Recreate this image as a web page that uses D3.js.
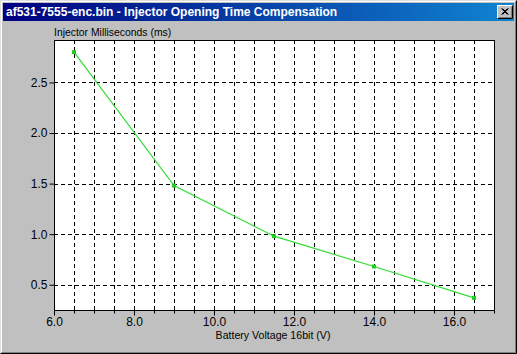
<!DOCTYPE html>
<html>
<head>
<meta charset="utf-8">
<script src="https://cdn.jsdelivr.net/npm/d3@7"></script>
<style>
  body { margin: 0; background: #c0c0c0; }
  svg { display: block; font-family: "Liberation Sans", Arial, sans-serif; }
</style>
</head>
<body>
<div id="chart_wrapper"></div>
<script>
var voltage = [6.5, 9.0, 11.5, 14.0, 16.5];
var injectorMs = [2.80, 1.48, 0.98, 0.68, 0.37];
var xTickLabels = [6.0, 8.0, 10.0, 12.0, 14.0, 16.0];
var yTickLabels = [0.5, 1.0, 1.5, 2.0, 2.5];

var W = 517, H = 354;
var margin = { left: 54, right: 23, top: 40, bottom: 44 };
var width = W - margin.left - margin.right,
    height = H - margin.top - margin.bottom;

var svg = d3.select("#chart_wrapper").append("svg").attr("width", W).attr("height", H);

// window frame
svg.append("rect").attr("width", W).attr("height", H).attr("fill", "#c0c0c0");
svg.append("path").attr("d", "M0.5," + (H - 0.5) + "V0.5H" + (W - 0.5)).attr("stroke", "#dfdfdf").attr("fill", "none");
svg.append("path").attr("d", "M1.5," + (H - 1.5) + "V1.5H" + (W - 1.5)).attr("stroke", "#ffffff").attr("fill", "none");
svg.append("path").attr("d", "M0.5," + (H - 0.5) + "H" + (W - 0.5) + "V0.5").attr("stroke", "#000000").attr("fill", "none");
svg.append("path").attr("d", "M1.5," + (H - 1.5) + "H" + (W - 1.5) + "V1.5").attr("stroke", "#808080").attr("fill", "none");

// title bar
var grad = svg.append("defs").append("linearGradient").attr("id", "tb");
grad.append("stop").attr("offset", "0%").attr("stop-color", "#000080");
grad.append("stop").attr("offset", "100%").attr("stop-color", "#1084d0");
svg.append("rect").attr("x", 3).attr("y", 3).attr("width", W - 6).attr("height", 18).attr("fill", "url(#tb)");
svg.append("text").attr("x", 6).attr("y", 16).attr("fill", "#fff").attr("font-weight", "bold")
    .attr("font-size", "12px").text("af531-7555-enc.bin - Injector Opening Time Compensation");

// close button
var btn = svg.append("g").attr("transform", "translate(497,5)");
btn.append("rect").attr("width", 16).attr("height", 14).attr("fill", "#c0c0c0");
btn.append("path").attr("d", "M0.5,13.5V0.5H15.5").attr("stroke", "#fff").attr("fill", "none");
btn.append("path").attr("d", "M0.5,13.5H15.5V0.5").attr("stroke", "#000").attr("fill", "none");
btn.append("path").attr("d", "M1.5,12.5H14.5V1.5").attr("stroke", "#808080").attr("fill", "none");
btn.append("path").attr("d", "M4.5,3.5L10.5,9.5M5.5,3.5L11.5,9.5M10.5,3.5L4.5,9.5M11.5,3.5L5.5,9.5")
    .attr("stroke", "#000").attr("stroke-width", 1);

var x = d3.scaleLinear().domain([6, 17]).range([0, width]);
var y = d3.scaleLinear().domain([0.25, 2.92]).range([height, 0]);

var g = svg.append("g").attr("transform", "translate(" + margin.left + "," + margin.top + ")");

g.append("rect").attr("width", width).attr("height", height).attr("fill", "#fff");

var xMinor = d3.range(6, 17.01, 0.5);

// vertical grid
g.selectAll(".vgrid").data(xMinor.filter(function(d){ return d > 6 && d < 17; })).enter().append("line")
    .attr("x1", function(d){ return Math.round(x(d)) + 0.5; })
    .attr("x2", function(d){ return Math.round(x(d)) + 0.5; })
    .attr("y1", 0).attr("y2", height)
    .attr("stroke", "#000").attr("stroke-dasharray", "4,3");

// horizontal grid
g.selectAll(".hgrid").data(yTickLabels).enter().append("line")
    .attr("y1", function(d){ return Math.round(y(d)) + 0.5; })
    .attr("y2", function(d){ return Math.round(y(d)) + 0.5; })
    .attr("x1", 0).attr("x2", width)
    .attr("stroke", "#000").attr("stroke-dasharray", "4,3");

g.append("rect").attr("x", 0.5).attr("y", 0.5).attr("width", width).attr("height", height)
    .attr("fill", "none").attr("stroke", "#000");

// x axis
var xAxis = g.append("g").attr("transform", "translate(0," + (height + 0.5) + ")")
    .call(d3.axisBottom(x).tickValues(xMinor).tickSize(3).tickSizeOuter(0).tickFormat(""));
xAxis.select(".domain").remove();
xAxis.selectAll("line").attr("stroke", "#000");
var xMajor = g.append("g").attr("transform", "translate(0," + (height + 0.5) + ")")
    .call(d3.axisBottom(x).tickValues(xTickLabels).tickSize(5).tickPadding(2).tickFormat(d3.format(".1f")));
xMajor.select(".domain").remove();
xMajor.selectAll("text").attr("font-size", "12px").attr("fill", "#000").attr("font-family", "Liberation Sans, Arial, sans-serif");

// y axis
var yAxis = g.append("g").attr("transform", "translate(0.5,0)")
    .call(d3.axisLeft(y).tickValues(yTickLabels).tickSize(5).tickPadding(2).tickFormat(d3.format(".1f")));
yAxis.select(".domain").remove();
yAxis.selectAll("text").attr("font-size", "12px").attr("fill", "#000").attr("font-family", "Liberation Sans, Arial, sans-serif");

// axis titles
svg.append("text").attr("x", margin.left).attr("y", 36).attr("font-size", "10.4px").attr("fill", "#000")
    .text("Injector Milliseconds (ms)");
svg.append("text").attr("x", 273).attr("y", 339).attr("font-size", "10.6px")
    .attr("text-anchor", "middle").attr("fill", "#000").text("Battery Voltage 16bit (V)");

// data line
var data = voltage.map(function(v, i){ return { v: v, ms: injectorMs[i] }; });
var line = d3.line().x(function(d){ return x(d.v); }).y(function(d){ return y(d.ms); });
g.append("path").attr("d", line(data)).attr("fill", "none").attr("stroke", "#33dd33").attr("stroke-width", 1.2);
g.selectAll(".pt").data(data).enter().append("rect")
    .attr("x", function(d){ return x(d.v) - 2; }).attr("y", function(d){ return y(d.ms) - 2; })
    .attr("width", 4).attr("height", 4).attr("fill", "#22cc22");
</script>
</body>
</html>
